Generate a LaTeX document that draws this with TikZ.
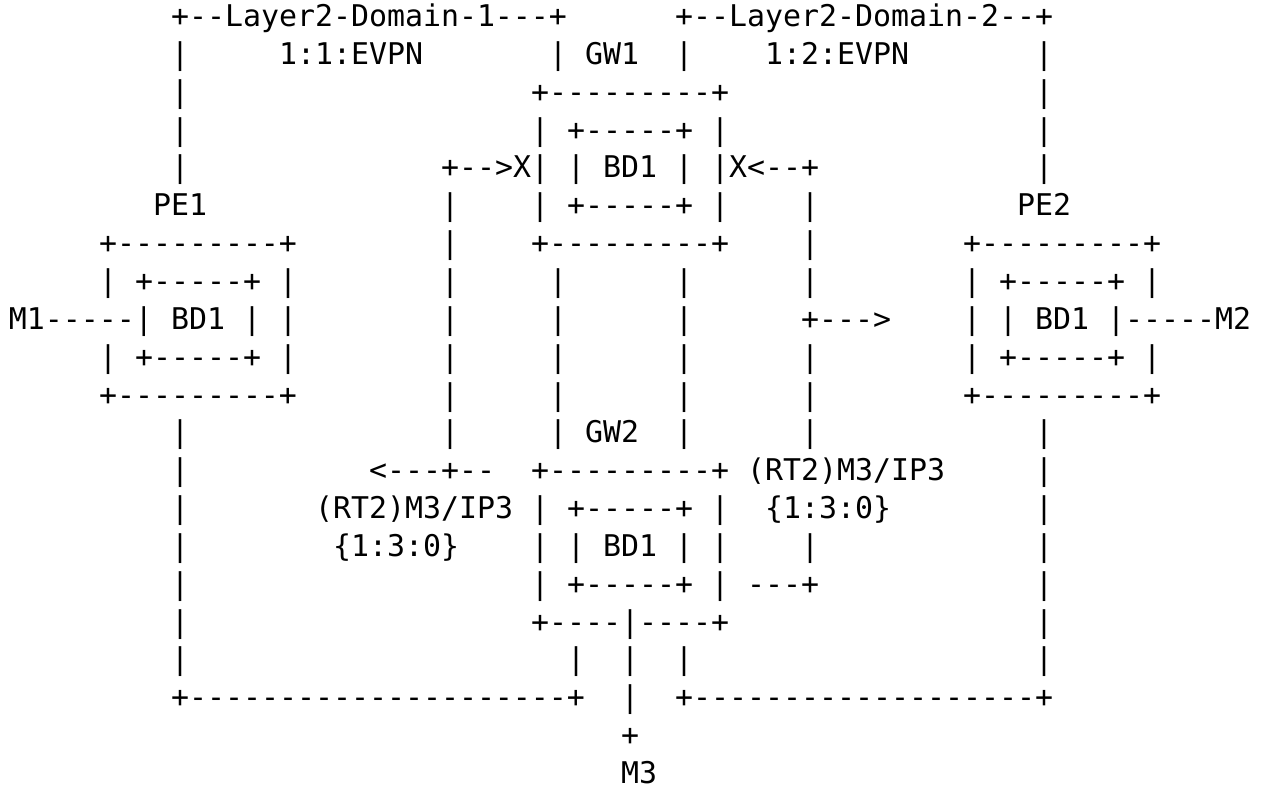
\documentclass[tikz,border=0pt]{standalone}
\usepackage{fontspec}
\setmonofont{DejaVu Sans Mono}
\tikzset{txt/.style={anchor=base west,inner sep=0pt,outer sep=0pt,font=\ttfamily\fontsize{29.9}{36}\selectfont,text=black}}
\newcommand\seg[3]{\node[txt] (n#2c#1) at ({9+18*#1},{788-(783.5-(21-#2)*37.85)}) {#3};}
\begin{document}
\begin{tikzpicture}[x=1pt,y=1pt]
\fill[white] (0,0) rectangle (1265,788);
\useasboundingbox (0,0) rectangle (1265,788);
% row 1
\seg{9}{1}{+--Layer2-Domain-1---+}\seg{37}{1}{+--Layer2-Domain-2--+}
% row 2
\seg{9}{2}{|}\seg{15}{2}{1:1:EVPN}\seg{30}{2}{|}\seg{32}{2}{GW1}\seg{37}{2}{|}\seg{42}{2}{1:2:EVPN}\seg{57}{2}{|}
% row 3
\seg{9}{3}{|}\seg{29}{3}{+---------+}\seg{57}{3}{|}
% row 4
\seg{9}{4}{|}\seg{29}{4}{|}\seg{31}{4}{+-----+}\seg{39}{4}{|}\seg{57}{4}{|}
% row 5
\seg{9}{5}{|}\seg{24}{5}{+-->X|}\seg{31}{5}{|}\seg{33}{5}{BD1}\seg{37}{5}{|}\seg{39}{5}{|X<--+}\seg{57}{5}{|}
% row 6
\seg{8}{6}{PE1}\seg{24}{6}{|}\seg{29}{6}{|}\seg{31}{6}{+-----+}\seg{39}{6}{|}\seg{44}{6}{|}\seg{56}{6}{PE2}
% row 7
\seg{5}{7}{+---------+}\seg{24}{7}{|}\seg{29}{7}{+---------+}\seg{44}{7}{|}\seg{53}{7}{+---------+}
% row 8
\seg{5}{8}{|}\seg{7}{8}{+-----+}\seg{15}{8}{|}\seg{24}{8}{|}\seg{30}{8}{|}\seg{37}{8}{|}\seg{44}{8}{|}\seg{53}{8}{|}\seg{55}{8}{+-----+}\seg{63}{8}{|}
% row 9
\seg{0}{9}{M1-----|}\seg{9}{9}{BD1}\seg{13}{9}{|}\seg{15}{9}{|}\seg{24}{9}{|}\seg{30}{9}{|}\seg{37}{9}{|}\seg{44}{9}{+--->}\seg{53}{9}{|}\seg{55}{9}{|}\seg{57}{9}{BD1}\seg{61}{9}{|-----M2}
% row 10
\seg{5}{10}{|}\seg{7}{10}{+-----+}\seg{15}{10}{|}\seg{24}{10}{|}\seg{30}{10}{|}\seg{37}{10}{|}\seg{44}{10}{|}\seg{53}{10}{|}\seg{55}{10}{+-----+}\seg{63}{10}{|}
% row 11
\seg{5}{11}{+---------+}\seg{24}{11}{|}\seg{30}{11}{|}\seg{37}{11}{|}\seg{44}{11}{|}\seg{53}{11}{+---------+}
% row 12
\seg{9}{12}{|}\seg{24}{12}{|}\seg{30}{12}{|}\seg{32}{12}{GW2}\seg{37}{12}{|}\seg{44}{12}{|}\seg{57}{12}{|}
% row 13
\seg{9}{13}{|}\seg{20}{13}{<---+--}\seg{29}{13}{+---------+}\seg{41}{13}{(RT2)M3/IP3}\seg{57}{13}{|}
% row 14
\seg{9}{14}{|}\seg{17}{14}{(RT2)M3/IP3}\seg{29}{14}{|}\seg{31}{14}{+-----+}\seg{39}{14}{|}\seg{42}{14}{\{1:3:0\}}\seg{57}{14}{|}
% row 15
\seg{9}{15}{|}\seg{18}{15}{\{1:3:0\}}\seg{29}{15}{|}\seg{31}{15}{|}\seg{33}{15}{BD1}\seg{37}{15}{|}\seg{39}{15}{|}\seg{44}{15}{|}\seg{57}{15}{|}
% row 16
\seg{9}{16}{|}\seg{29}{16}{|}\seg{31}{16}{+-----+}\seg{39}{16}{|}\seg{41}{16}{---+}\seg{57}{16}{|}
% row 17
\seg{9}{17}{|}\seg{29}{17}{+----|----+}\seg{57}{17}{|}
% row 18
\seg{9}{18}{|}\seg{31}{18}{|}\seg{34}{18}{|}\seg{37}{18}{|}\seg{57}{18}{|}
% row 19
\seg{9}{19}{+---------------------+}\seg{34}{19}{|}\seg{37}{19}{+-------------------+}
% row 20
\seg{34}{20}{+}
% row 21
\seg{34}{21}{M3}
\end{tikzpicture}
\end{document}
